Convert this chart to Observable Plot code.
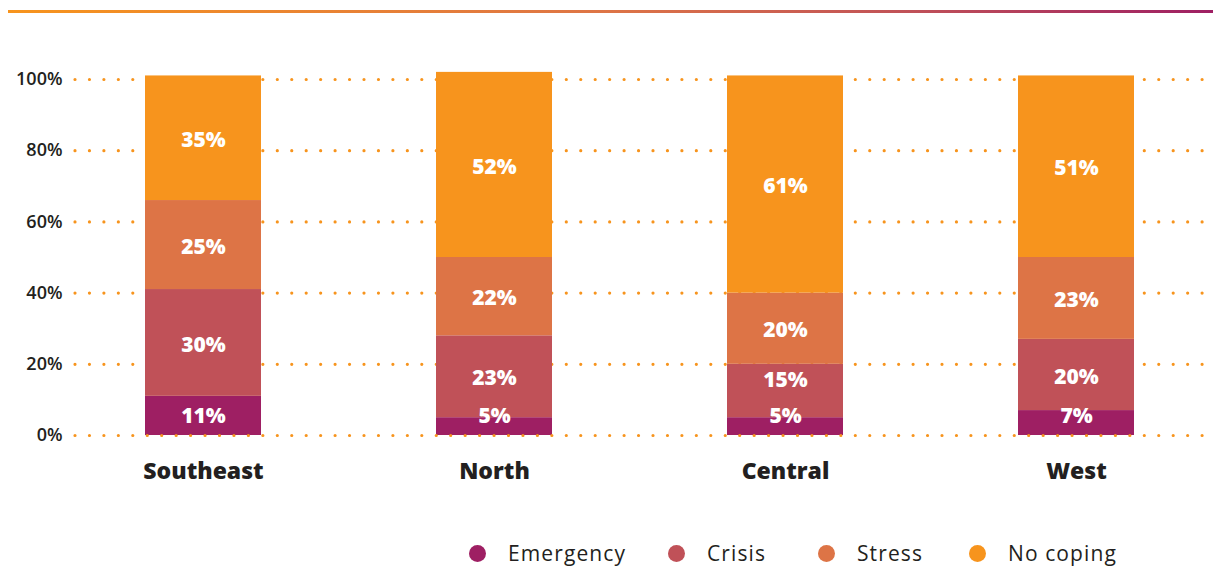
<!DOCTYPE html>
<html>
<head>
<meta charset="utf-8">
<script src="https://cdn.jsdelivr.net/npm/d3@7"></script>
<script src="https://cdn.jsdelivr.net/npm/@observablehq/plot@0.6"></script>
<style>
  html, body { margin: 0; padding: 0; background: #fff; }
  body { width: 1213px; height: 567px; position: relative; overflow: hidden; font-family: "Open Sans", sans-serif; }
  #topline { position: absolute; left: 8px; top: 10px; width: 1205px; height: 3px;
    background: linear-gradient(to right, #F7941D, #DD7446 50%, #C05158 75%, #9E1F63); }
  #chart { position: absolute; left: 0; top: 0; }
  #legend { position: absolute; top: 539px; left: 469px; display: flex; align-items: center;
    font-family: "Open Sans", sans-serif; font-size: 21px; letter-spacing: 1.1px; color: #231F20; }
  .item { display: flex; align-items: center; }
  .item:nth-child(1) { width: 199px; }
  .item:nth-child(2) { width: 150px; }
  .item:nth-child(3) { width: 151px; }
  .dot { width: 17px; height: 17px; border-radius: 50%; margin-right: 22px; flex: none; }
</style>
</head>
<body>
<div id="topline"></div>
<div id="chart"></div>
<div id="legend"></div>
<script>
const regions = ["Southeast", "North", "Central", "West"];
const series = ["Emergency", "Crisis", "Stress", "No coping"];
const emergency = [11, 5, 5, 7];
const crisis = [30, 23, 15, 20];
const stress = [25, 22, 20, 23];
const noCoping = [35, 52, 61, 51];
const colors = ["#9E1F63", "#C05158", "#DD7446", "#F7941D"];
const yTicks = [0, 20, 40, 60, 80, 100];

const values = [emergency, crisis, stress, noCoping];
const data = [];
regions.forEach((r, i) => {
  let base = 0;
  let prev = -Infinity;
  series.forEach((s, j) => {
    const v = values[j][i];
    let mid = base + v / 2;
    if (j === 0) mid = Math.max(mid, 6);
    mid = Math.max(mid, prev + 10);
    prev = mid;
    data.push({region: r, series: s, value: v, mid, label: v + "%"});
    base += v;
  });
});

const plot = Plot.plot({
  width: 1213,
  height: 500,
  marginLeft: 75,
  marginRight: 8,
  marginTop: 79,
  marginBottom: 65,
  style: {background: "transparent", overflow: "visible"},
  x: {domain: regions, paddingInner: 0.6, paddingOuter: 0.24, label: null},
  y: {domain: [0, 100], label: null},
  color: {domain: series, range: colors},
  marks: [
    Plot.ruleY(yTicks.filter(d => d > 0), {stroke: "#F7941D", strokeWidth: 3.2, strokeDasharray: "0,14.45", strokeLinecap: "round"}),
    Plot.barY(data, Plot.stackY({x: "region", y: "value", fill: "series", z: "series", order: series})),
    Plot.ruleY([0], {stroke: "#F7941D", strokeWidth: 3.2, strokeDasharray: "0,14.45", strokeLinecap: "round"}),
    Plot.text(data, {x: "region", y: "mid", text: "label", fill: "white", fontSize: 21, fontWeight: 800, fontFamily: "Open Sans", dy: 2, letterSpacing: 0.5}),
    Plot.axisY({ticks: yTicks, tickSize: 0, tickPadding: 13, tickFormat: d => d + "%", fontSize: 18, fontWeight: 600, fontFamily: "Open Sans", fill: "#231F20", letterSpacing: 0.5}),
    Plot.axisX({tickSize: 0, tickPadding: 27, fontSize: 23, fontWeight: 800, fontFamily: "Open Sans", fill: "#231F20", letterSpacing: 1})
  ]
});
document.getElementById("chart").appendChild(plot);

const legend = document.getElementById("legend");
series.forEach((s, j) => {
  const item = document.createElement("div");
  item.className = "item";
  const dot = document.createElement("span");
  dot.className = "dot";
  dot.style.background = colors[j];
  const label = document.createElement("span");
  label.textContent = s;
  item.appendChild(dot);
  item.appendChild(label);
  legend.appendChild(item);
});
</script>
</body>
</html>
